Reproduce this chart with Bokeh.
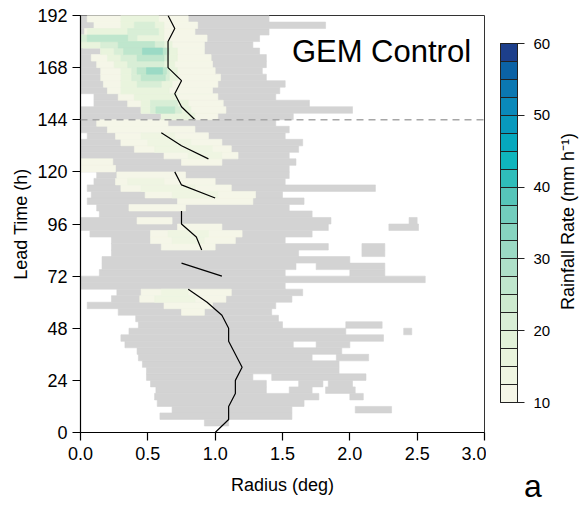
import math
from bokeh.plotting import figure
from bokeh.layouts import row
from bokeh.models import (ColumnDataSource, FixedTicker, Label, Span, Range1d,
                          NumeralTickFormatter, ColorBar, LinearColorMapper)
from bokeh.transform import linear_cmap
from bokeh.embed import file_html
from bokeh.resources import INLINE

# ---------------- data ----------------
BAND_HOURS = 3  # each row of the field covers [t0, t0 + 3 h]

# rain area (grey) per 3-h row: list of (inner radius, outer radius) in deg
GRAY_ROWS = {
    0: [],
    3: [(0.92, 1.10)],
    6: [(0.59, 1.57)],
    9: [(0.68, 1.57), (2.04, 2.31)],
    12: [(0.57, 1.66)],
    15: [(0.55, 1.77), (2.00, 2.10)],
    18: [(0.56, 1.38), (1.55, 1.72), (1.82, 2.04)],
    21: [(0.52, 1.38), (1.62, 1.80), (1.84, 2.02)],
    24: [(0.49, 1.28), (1.42, 2.12)],
    27: [(0.49, 1.92)],
    30: [(0.46, 1.92)],
    33: [(0.43, 1.72), (1.90, 2.14)],
    36: [(0.42, 1.94)],
    39: [(0.33, 1.58), (1.75, 2.00)],
    42: [(0.30, 2.25)],
    45: [(0.36, 1.97), (2.40, 2.46)],
    48: [(0.43, 1.50), (1.97, 2.24)],
    51: [(0.41, 1.47)],
    54: [(0.28, 1.42)],
    57: [(0.05, 1.45)],
    60: [(0.23, 1.57)],
    63: [(0.27, 1.65)],
    66: [(0.00, 1.52)],
    69: [(0.00, 2.56)],
    72: [(0.14, 1.52), (2.00, 2.26)],
    75: [(0.16, 1.60), (1.75, 2.26)],
    78: [(0.16, 2.00)],
    81: [(0.23, 1.62), (2.09, 2.26)],
    84: [(0.23, 1.84), (2.09, 2.26)],
    87: [(0.23, 1.52)],
    90: [(0.07, 1.72)],
    93: [(0.00, 1.84), (2.29, 2.51)],
    96: [(0.00, 1.86), (2.44, 2.50)],
    99: [(0.14, 1.72)],
    102: [(0.12, 1.55)],
    105: [(0.05, 1.66)],
    108: [(0.08, 1.50)],
    111: [(0.05, 2.19)],
    114: [(0.10, 1.52)],
    117: [(0.12, 1.55)],
    120: [(0.00, 1.55)],
    123: [(0.00, 1.60)],
    126: [(0.00, 1.55)],
    129: [(0.00, 1.62)],
    132: [(0.00, 1.65)],
    135: [(0.05, 1.52)],
    138: [(0.00, 1.55)],
    141: [(0.00, 1.45)],
    144: [(0.00, 1.58)],
    147: [(0.00, 2.02)],
    150: [(0.10, 1.70)],
    153: [(0.10, 1.45)],
    156: [(0.00, 1.48)],
    159: [(0.00, 1.52)],
    162: [(0.00, 1.38)],
    165: [(0.00, 1.35)],
    168: [(0.00, 1.38)],
    171: [(0.00, 1.38)],
    174: [(0.00, 1.33)],
    177: [(0.00, 1.28)],
    180: [(0.00, 1.33)],
    183: [(0.00, 1.40)],
    186: [(0.00, 1.82)],
    189: [(0.00, 1.40)],
}

# heavier rain (>= 10 mm/h): (row start h, inner r, outer r, rain rate mm/h)
GREEN_SEGS = [
    (54, 0.75, 0.92, 11), (57, 0.62, 0.98, 11), (60, 0.44, 1.08, 11), (63, 0.45, 1.12, 11),
    (60, 0.55, 0.85, 13.5), (63, 0.60, 0.80, 13.5),
    (84, 0.60, 1.00, 11), (87, 0.52, 1.15, 11), (90, 0.52, 1.20, 11), (93, 0.72, 1.05, 11),
    (87, 0.68, 0.92, 13.5), (90, 0.65, 0.95, 13.5),
    (96, 0.42, 0.68, 11), (102, 0.36, 0.78, 11),
    (105, 0.72, 1.28, 11), (108, 0.48, 1.30, 11), (111, 0.30, 1.12, 11),
    (114, 0.26, 1.00, 11), (117, 0.27, 0.78, 11),
    (108, 0.68, 1.02, 13.5), (111, 0.45, 0.85, 13.5), (114, 0.35, 0.62, 13.5),
    (120, 0.00, 0.26, 11), (123, 0.00, 0.24, 11),
    (123, 0.75, 1.05, 11), (126, 0.62, 1.17, 11), (129, 0.40, 1.12, 11), (132, 0.30, 1.05, 11),
    (135, 0.26, 0.95, 11), (138, 0.20, 0.85, 11), (141, 0.12, 0.65, 11),
    (126, 0.80, 1.05, 13.5), (129, 0.55, 0.98, 13.5), (132, 0.50, 0.82, 13.5), (135, 0.45, 0.70, 13.5),
    (144, 0.60, 1.02, 11), (147, 0.45, 1.08, 11), (150, 0.35, 1.06, 11), (153, 0.28, 1.02, 11),
    (156, 0.20, 0.98, 11), (159, 0.17, 1.02, 11), (162, 0.15, 1.04, 11), (165, 0.15, 1.00, 11),
    (168, 0.12, 0.98, 11), (171, 0.08, 0.97, 11), (174, 0.15, 0.92, 11), (177, 0.02, 0.92, 11),
    (180, 0.00, 0.94, 11), (183, 0.03, 0.85, 11), (186, 0.10, 0.87, 11), (189, 0.05, 0.80, 11),
    (189, 0.30, 0.58, 16), (186, 0.30, 0.62, 16), (183, 0.05, 0.62, 16), (180, 0.00, 0.62, 16),
    (177, 0.00, 0.68, 16), (174, 0.15, 0.72, 16), (171, 0.20, 0.72, 16), (168, 0.25, 0.70, 16),
    (165, 0.30, 0.72, 16), (162, 0.30, 0.72, 16), (159, 0.30, 0.68, 16), (156, 0.30, 0.66, 16),
    (153, 0.40, 0.72, 16), (150, 0.45, 0.80, 16), (147, 0.45, 0.82, 16), (144, 0.60, 0.85, 16),
    (186, 0.40, 0.55, 21), (183, 0.35, 0.58, 21), (180, 0.00, 0.42, 21), (177, 0.15, 0.62, 21),
    (174, 0.25, 0.66, 21), (171, 0.30, 0.65, 21), (168, 0.35, 0.62, 21), (165, 0.38, 0.66, 21),
    (162, 0.38, 0.66, 21), (159, 0.42, 0.60, 21), (150, 0.52, 0.72, 21), (147, 0.52, 0.75, 21),
    (180, 0.05, 0.35, 26), (177, 0.28, 0.55, 26), (174, 0.32, 0.64, 26), (171, 0.42, 0.62, 26),
    (165, 0.42, 0.64, 26), (162, 0.45, 0.63, 26), (147, 0.56, 0.70, 26),
    (174, 0.46, 0.61, 31), (165, 0.49, 0.61, 31),
]

# radius of maximum (black line), 6-hourly, with segment ids
RMW_T = [0, 6, 12, 18, 24, 30, 36, 42, 48, 54, 60, 66,
         72, 78,
         84, 90, 96, 102,
         108, 114, 120,
         126, 132, 138,
         144, 150, 156, 162, 168, 174, 180, 186, 192]
RMW_R = [1.00, 1.10, 1.10, 1.15, 1.15, 1.20, 1.15, 1.10, 1.10, 1.05, 0.94, 0.80,
         1.05, 0.75,
         0.90, 0.86, 0.75, 0.75,
         1.00, 0.75, 0.70,
         0.95, 0.75, 0.60,
         0.85, 0.75, 0.70, 0.75, 0.65, 0.65, 0.65, 0.70, 0.65]
RMW_SEG = [0] * 12 + [1] * 2 + [2] * 4 + [3] * 3 + [4] * 3 + [5] * 9

MARKED_LEAD = 144
LEVELS = [10 + 2.5 * i for i in range(21)]
PALETTE = ["#f5f6e8", "#eff5e2", "#e9f4dd", "#e2f2d9", "#d8eed6", "#cdeacf", "#bfe6cd",
           "#aee0c9", "#9bdac5", "#87d4c0", "#72cdbd", "#56c5b9", "#2fbdba", "#0fb5bd",
           "#06a8be", "#0899bd", "#0a89ba", "#0b78b2", "#0b62a5", "#1d3f8b"]
X_TICKS = [0.0, 0.5, 1.0, 1.5, 2.0, 2.5, 3.0]
Y_TICKS = [0, 24, 48, 72, 96, 120, 144, 168, 192]
CB_TICKS = [10, 20, 30, 40, 50, 60]
TITLE = "GEM Control"
CB_TITLE = "Rainfall Rate (mm h\u207b\u00b9)"
PANEL = "a"

FONT = "Liberation Sans"
GRAY = "#d3d3d3"

# ---------------- main panel ----------------
p = figure(width=486, height=506, x_range=Range1d(0, 3), y_range=Range1d(0, 192),
           output_backend="svg", toolbar_location=None,
           min_border_left=80, min_border_right=2, min_border_top=15, min_border_bottom=72)
p.grid.visible = False
p.outline_line_color = "#333333"
p.outline_line_width = 1

gl, gr, gb, gt = [], [], [], []
for t0, segs in GRAY_ROWS.items():
    for r0, r1 in segs:
        gl.append(r0); gr.append(r1); gb.append(t0); gt.append(t0 + BAND_HOURS)
p.quad(left=gl, right=gr, bottom=gb, top=gt, fill_color=GRAY, line_color=GRAY, line_width=0.6)

segs_sorted = sorted(GREEN_SEGS, key=lambda s: s[3])
gsrc = ColumnDataSource(dict(
    left=[s[1] for s in segs_sorted], right=[s[2] for s in segs_sorted],
    bottom=[s[0] for s in segs_sorted], top=[s[0] + BAND_HOURS for s in segs_sorted],
    rate=[s[3] for s in segs_sorted]))
cmap = linear_cmap("rate", PALETTE, 10, 60)
p.quad(left="left", right="right", bottom="bottom", top="top", source=gsrc,
       fill_color=cmap, line_color=cmap, line_width=0.6)

xs, ys = [], []
for sid in sorted(set(RMW_SEG)):
    xs.append([r for r, s in zip(RMW_R, RMW_SEG) if s == sid])
    ys.append([t for t, s in zip(RMW_T, RMW_SEG) if s == sid])
p.multi_line(xs=xs, ys=ys, line_color="black", line_width=1.2)

p.add_layout(Span(location=MARKED_LEAD, dimension="width", line_color="#a6a6a6",
                  line_dash="7 5", line_width=1.5))

p.add_layout(Label(x=2.9, y=175.5, text=TITLE, text_align="right", text_baseline="middle",
                   text_font=FONT, text_font_size="31px", text_color="black"))

for ax in (p.xaxis[0], p.yaxis[0]):
    ax.major_tick_out = 8
    ax.major_tick_in = 0
    ax.minor_tick_line_color = None
    ax.axis_line_width = 1.2
    ax.major_tick_line_width = 1.2
    ax.major_label_text_font = FONT
    ax.major_label_text_font_size = "18px"
    ax.major_label_text_color = "black"
    ax.axis_label_text_font = FONT
    ax.axis_label_text_font_size = "18px"
    ax.axis_label_text_font_style = "normal"
    ax.axis_label_text_color = "black"
p.xaxis.ticker = FixedTicker(ticks=X_TICKS)
p.xaxis.formatter = NumeralTickFormatter(format="0.0")
p.yaxis.ticker = FixedTicker(ticks=Y_TICKS)
p.xaxis.axis_label = "Radius (deg)"
p.yaxis.axis_label = "Lead Time (h)"
p.xaxis.major_label_standoff = 6
p.yaxis.major_label_standoff = 5
p.xaxis.axis_label_standoff = 12
p.yaxis.axis_label_standoff = 3

# ---------------- colour bar panel ----------------
cb = figure(width=93, height=506, x_range=Range1d(0, 1), y_range=Range1d(0, 1),
            output_backend="svg", toolbar_location=None, y_axis_location=None,
            min_border_left=0, min_border_right=0, min_border_top=15, min_border_bottom=72)
cb.grid.visible = False
cb.outline_line_color = None

mapper = LinearColorMapper(palette=PALETTE, low=LEVELS[0], high=LEVELS[-1])
bar = ColorBar(color_mapper=mapper, location=(14, 30), width=17, height=359,
               padding=0, margin=0, title=None,
               ticker=FixedTicker(ticks=CB_TICKS, minor_ticks=LEVELS),
               major_tick_in=17, major_tick_out=7, major_tick_line_color="#222222",
               major_tick_line_width=1,
               minor_tick_in=17, minor_tick_out=0, minor_tick_line_color="#222222",
               minor_tick_line_width=1,
               bar_line_color="#222222", bar_line_width=1,
               label_standoff=9, major_label_text_font=FONT,
               major_label_text_font_size="15px", major_label_text_color="black",
               background_fill_color=None, border_line_color=None)
cb.add_layout(bar)

cb.add_layout(Label(x=81, y=211, x_units="screen", y_units="screen", angle=math.pi / 2,
                    text=CB_TITLE, text_align="center", text_baseline="middle",
                    text_font=FONT, text_font_size="18px", text_color="black"))

xa = cb.xaxis[0]
xa.ticker = FixedTicker(ticks=[])
xa.axis_line_color = None
xa.major_tick_line_color = None
xa.minor_tick_line_color = None
xa.major_tick_out = 0
xa.major_label_standoff = 0
xa.axis_label = PANEL
xa.axis_label_text_font = FONT
xa.axis_label_text_font_size = "32px"
xa.axis_label_text_font_style = "normal"
xa.axis_label_text_color = "black"
xa.axis_label_standoff = 35

layout = row(p, cb)
open("out.html", "w").write(file_html(layout, INLINE))
